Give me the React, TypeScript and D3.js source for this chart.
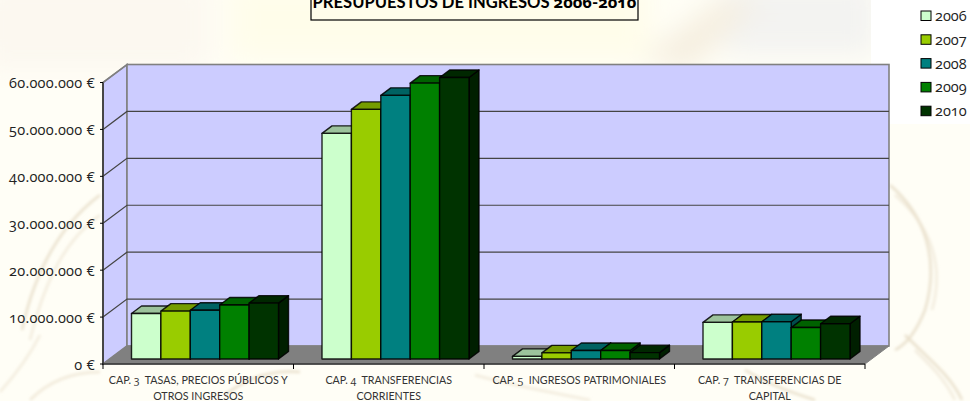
import React from "react";
import * as d3 from "d3";

const categories = [
  ["CAP. 3  TASAS, PRECIOS PÚBLICOS Y", "OTROS INGRESOS"],
  ["CAP. 4  TRANSFERENCIAS", "CORRIENTES"],
  ["CAP. 5  INGRESOS PATRIMONIALES"],
  ["CAP. 7  TRANSFERENCIAS DE", "CAPITAL"],
];
const years = ["2006", "2007", "2008", "2009", "2010"];
const values2006 = [9.7, 48.1, 0.55, 7.8];
const values2007 = [10.2, 53.2, 1.3, 7.9];
const values2008 = [10.4, 56.2, 1.8, 7.95];
const values2009 = [11.5, 58.8, 1.8, 6.7];
const values2010 = [11.9, 60.0, 1.35, 7.5];
const seriesValues = [values2006, values2007, values2008, values2009, values2010];
const yTicks = [0, 10, 20, 30, 40, 50, 60];
const frontColors = ["#ccffcc", "#99cc00", "#008080", "#008000", "#003300"];
const topColors = ["#9cc39c", "#759c00", "#006262", "#006200", "#002700"];
const sideColors = ["#7a997a", "#5c7a00", "#004d4d", "#004d00", "#001f00"];
const FONT = "'Open Sans', Lato, sans-serif";
const LATO = "Lato, 'Open Sans', sans-serif";
const ONUM = { fontFeatureSettings: "'onum' 1", fontVariantNumeric: "oldstyle-nums" } as const;

// Lato for the letters, Open Sans old-style figures for the digits
const mixed = (s: string) =>
  s.split(/([0-9]+)/).map((part, i) =>
    /^[0-9]+$/.test(part) ? <tspan key={i} style={{ ...ONUM, fontFamily: FONT }}>{part}</tspan> : <tspan key={i}>{part}</tspan>
  );

export default function App() {
  const x0 = 103, x1 = 865, dx = 24, dy = -18;
  const y = d3.scaleLinear().domain([0, 60]).range([364, 82.5]);
  const band = d3.scaleBand<number>().domain([0, 1, 2, 3]).range([x0, x1]);
  const barX = d3.scaleBand<number>().domain([0, 1, 2, 3, 4]).range([28.5, 175.5]);
  const bdx = 10, bdy = -7.5, bShift = -5;
  const wallStroke = "#808080";
  const back = (v: number) => y(v) + dy;
  return (
    <svg width={970} height={401} style={{ position: "absolute", left: 0, top: 0, fontFamily: FONT }}>
      <defs>
        <filter id="soft" x="-20%" y="-20%" width="140%" height="140%"><feGaussianBlur stdDeviation="1.5" /></filter>
        <filter id="wide" x="-20%" y="-20%" width="140%" height="140%"><feGaussianBlur stdDeviation="14" /></filter>
      </defs>
      <rect width={970} height={401} fill="#fffef6" />
      <g filter="url(#wide)">
        <rect x={-20} y={-20} width={230} height={90} fill="#fcf8f0" />
        <rect x={230} y={-20} width={420} height={80} fill="#fffdea" />
        <rect x={725} y={-20} width={150} height={75} fill="#f3f3f1" />
        <path d="M640 60 L720 0 L760 0 L690 70Z" fill="#f5eedf" />
      </g>
      <rect x={871} y={0} width={99} height={124} fill="#ffffff" />
      <g filter="url(#soft)" fill="none" stroke="#e9e0cc" strokeWidth={2.5}>
        <path d="M890 185 C925 215 940 260 925 310 C915 335 905 345 895 350" />
        <path d="M895 195 C930 225 945 265 932 310" strokeOpacity={0.6} />
        <path d="M905 335 C930 360 950 375 962 400" />
        <path d="M915 350 C935 370 945 380 955 400" strokeOpacity={0.6} />
        <path d="M22 330 C35 270 60 225 100 195" />
        <path d="M30 340 C45 280 65 240 100 215" strokeOpacity={0.6} />
        <path d="M30 400 C50 380 75 372 100 372" strokeOpacity={0.7} />
        <path d="M0 392 C15 375 30 355 40 335" strokeOpacity={0.6} />
        <path d="M225 395 C250 375 275 370 300 372" />
        <path d="M745 370 C770 385 790 392 815 400" />
        <path d="M475 375 C510 385 540 390 590 400" strokeOpacity={0.6} />
      </g>
      <path d={`M${x0} ${y(0)}L${x0 + dx} ${y(0) + dy}V${back(60)}L${x0} ${y(60)}Z`} fill="#ccccff" stroke={wallStroke} strokeWidth={1.6} />
      <rect x={x0 + dx} y={back(60)} width={x1 - x0} height={y(0) - y(60)} fill="#ccccff" stroke={wallStroke} strokeWidth={1.6} />
      <path d={`M${x0} ${y(0)}L${x0 + dx} ${y(0) + dy}H${x1 + dx}L${x1} ${y(0)}Z`} fill="#808080" stroke={wallStroke} />
      {yTicks.filter((t) => t > 0).map((t) => (
        <path key={t} d={`M${x0} ${y(t)}L${x0 + dx} ${back(t)}H${x1 + dx}`} fill="none" stroke={t === 60 ? wallStroke : "#444"} strokeWidth={1.2} />
      ))}
      {categories.map((_, c) => years.map((_, s) => {
        const v = seriesValues[s][c];
        const bx = band(c)! + barX(s)!;
        const w = barX.bandwidth();
        const base = y(0) + bShift;
        const top = y(v) + bShift;
        return (
          <g key={`${c}-${s}`} stroke="#000" strokeOpacity={0.85} strokeWidth={1.4} strokeLinejoin="round">
            <path d={`M${bx + w} ${base}l${bdx} ${bdy}V${top + bdy}L${bx + w} ${top}Z`} fill={sideColors[s]} />
            <path d={`M${bx} ${top}l${bdx} ${bdy}h${w}l${-bdx} ${-bdy}Z`} fill={topColors[s]} />
            <rect x={bx} y={top} width={w} height={base - top} fill={frontColors[s]} />
          </g>
        );
      }))}
      <path d={`M${x0} ${y(60)}V${y(0)}H${x1}`} fill="none" stroke="#333" strokeWidth={1.6} />
      {yTicks.map((t) => (
        <g key={t}>
          <line x1={x0 - 3} x2={x0} y1={y(t)} y2={y(t)} stroke="#000" />
          <text x={x0 - 8} y={y(t) + 5.6} textAnchor="end" fontSize={14.5} fill="#222" style={{ ...ONUM, letterSpacing: 0.25 }}>{d3.format(",")(t * 1e6).replace(/,/g, ".")} €</text>
        </g>
      ))}
      {categories.map((lines, c) => (
        <g key={c}>
          <line x1={band(c)!} x2={band(c)!} y1={y(0)} y2={y(0) + 5} stroke="#000" />
          {c === 3 && <line x1={x1} x2={x1} y1={y(0)} y2={y(0) + 5} stroke="#000" />}
          {lines.map((l, i) => (
            <text key={i} x={band(c)! + band.bandwidth() / 2} y={384 + i * 16.3} textAnchor="middle" fontSize={10.7} fill="#333" style={{ whiteSpace: "pre", fontFamily: LATO }}>{mixed(l)}</text>
          ))}
        </g>
      ))}
      <rect x={311} y={-10} width={327} height={30} fill="none" stroke="#000" strokeWidth={1.2} />
      <text x={474.5} y={8} textAnchor="middle" fontSize={16.6} fontWeight={700} fill="#000" style={{ fontFamily: LATO }}>{mixed("PRESUPUESTOS DE INGRESOS 2006-2010")}</text>
      {years.map((yr, i) => (
        <g key={yr}>
          <rect x={921} y={11 + i * 23.8} width={10} height={9.5} fill={frontColors[i]} stroke="#000" />
          <text x={935} y={21 + i * 23.8} fontSize={14.5} fill="#222" style={ONUM}>{yr}</text>
        </g>
      ))}
    </svg>
  );
}
